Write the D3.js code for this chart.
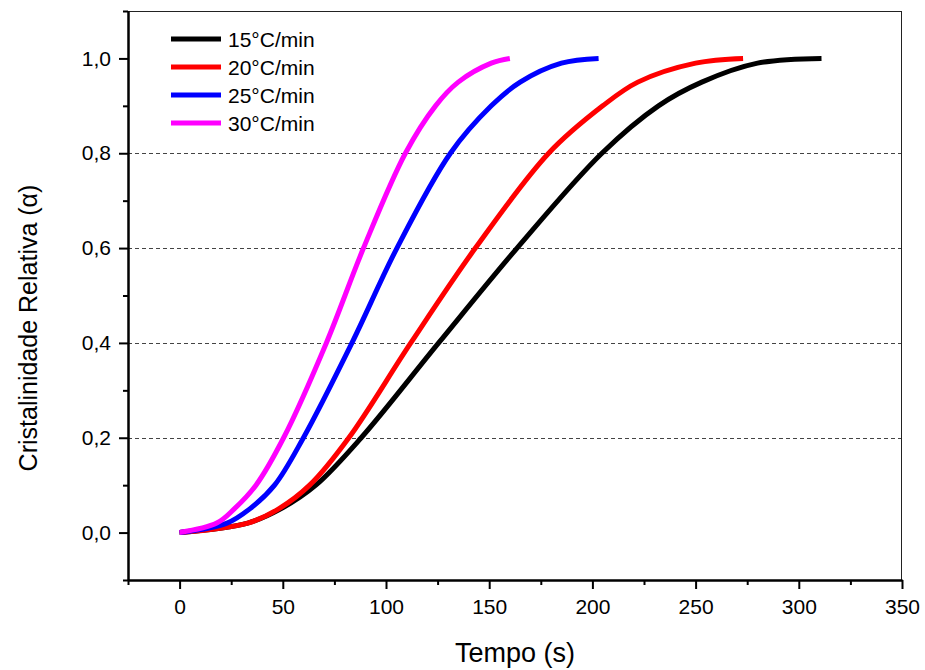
<!DOCTYPE html>
<html>
<head>
    <meta charset="utf-8" />
    <title>Cristalinidade Relativa</title>
    <script type="text/javascript" src="https://d3js.org/d3.v7.min.js"></script>
    <style>
        body { margin: 0; background: #fff; }
        svg { font-family: "Liberation Sans", Arial, sans-serif; }
        .curve { fill: none; stroke-width: 5px; stroke-linejoin: round; }
        .grid line { stroke: #444; stroke-width: 1px; stroke-dasharray: 4,3; shape-rendering: crispEdges; }
        .axis text { font-size: 21px; fill: #000; }
        .axis path, .axis line { stroke: #000; }
    </style>
</head>
<body>
<script type="text/javascript">
    // values: time (s) at which each series reaches a given alpha
    var alphaLevels = [0, 0.02, 0.05, 0.1, 0.2, 0.4, 0.6, 0.8, 0.9, 0.95, 0.99, 1.0];
    var tempo15 = [0, 33, 49, 66, 88, 125.5, 163.5, 204.6, 232, 253, 280, 311];
    var tempo20 = [0, 33, 48, 63, 82, 112, 143.3, 178.8, 205, 222, 250, 273];
    var tempo25 = [0, 23, 34, 46, 60, 83.5, 105.3, 131.2, 151, 165, 185, 203];
    var tempo30 = [0, 18, 26.5, 37, 50.4, 71.1, 89.1, 109.4, 124, 135, 151, 160];

    var seriesNames = ["15°C/min", "20°C/min", "25°C/min", "30°C/min"];
    var seriesColors = ["#000000", "#ff0000", "#0000ff", "#ff00ff"];
    var seriesTimes = [tempo15, tempo20, tempo25, tempo30];

    var xMajor = [0, 50, 100, 150, 200, 250, 300, 350];
    var xMinor = [-25, 25, 75, 125, 175, 225, 275, 325];
    var yMajor = [0, 0.2, 0.4, 0.6, 0.8, 1.0];
    var yMinor = [-0.1, 0.1, 0.3, 0.5, 0.7, 0.9, 1.1];
    var gridValues = [0.2, 0.4, 0.6, 0.8];

    var W = 925, H = 670;
    var margin = {top: 11, right: 23, bottom: 90, left: 128};
    var width = W - margin.left - margin.right,
        height = H - margin.top - margin.bottom;

    var x = d3.scaleLinear().domain([-25, 350]).range([0, width]);
    var y = d3.scaleLinear().domain([-0.1, 1.1]).range([height, 0]);

    var svg = d3.select("body").append("svg")
        .attr("width", W)
        .attr("height", H);

    var g = svg.append("g")
        .attr("transform", "translate(" + margin.left + "," + margin.top + ")");

    // dashed grid
    g.append("g").attr("class", "grid")
        .selectAll("line").data(gridValues).enter().append("line")
        .attr("x1", 0).attr("x2", width)
        .attr("y1", function(d) { return Math.round(y(d)) + 0.5; })
        .attr("y2", function(d) { return Math.round(y(d)) + 0.5; });

    // top and right frame
    g.append("line").attr("x1", 0).attr("x2", width).attr("y1", 0.5).attr("y2", 0.5)
        .attr("stroke", "#222").attr("stroke-width", 1);
    g.append("line").attr("x1", width - 0.5).attr("x2", width - 0.5).attr("y1", 0).attr("y2", height)
        .attr("stroke", "#222").attr("stroke-width", 1);

    // curves
    var line = d3.line()
        .x(function(d) { return x(d.t); })
        .y(function(d) { return y(d.a); })
        .curve(d3.curveCatmullRom.alpha(0.5));

    seriesTimes.forEach(function(times, i) {
        var pts = times.map(function(t, j) { return {t: t, a: alphaLevels[j]}; });
        g.append("path")
            .datum(pts)
            .attr("class", "curve")
            .attr("stroke", seriesColors[i])
            .attr("d", line);
    });

    // X axis
    g.append("g").attr("class", "axis")
        .attr("transform", "translate(0," + height + ")")
        .call(d3.axisBottom(x).tickValues(xMajor).tickSize(9).tickSizeOuter(0).tickPadding(10)
            .tickFormat(d3.format("d")));
    g.append("g").attr("class", "axis")
        .attr("transform", "translate(0," + height + ")")
        .call(d3.axisBottom(x).tickValues(xMinor).tickSize(5).tickSizeOuter(0).tickFormat(""));

    // Y axis
    g.append("g").attr("class", "axis")
        .call(d3.axisLeft(y).tickValues(yMajor).tickSize(9).tickSizeOuter(0).tickPadding(8)
            .tickFormat(function(d) { return d3.format(".1f")(d).replace(".", ","); }));
    g.append("g").attr("class", "axis")
        .call(d3.axisLeft(y).tickValues(yMinor).tickSize(5).tickSizeOuter(0).tickFormat(""));

    g.selectAll(".axis path").attr("stroke-width", 2);
    g.selectAll(".axis line").attr("stroke-width", 2);

    // axis titles
    svg.append("text")
        .attr("x", margin.left + width / 2)
        .attr("y", 662)
        .attr("text-anchor", "middle")
        .attr("font-size", "27px")
        .text("Tempo (s)");

    svg.append("text")
        .attr("transform", "translate(37,328) rotate(-90)")
        .attr("text-anchor", "middle")
        .attr("font-size", "25px")
        .text("Cristalinidade Relativa (α)");

    // legend
    var legend = svg.append("g").attr("transform", "translate(171,39)");
    seriesNames.forEach(function(name, i) {
        var row = legend.append("g").attr("transform", "translate(0," + (i * 28) + ")");
        row.append("line").attr("x1", 0).attr("x2", 50).attr("y1", 0).attr("y2", 0)
            .attr("stroke", seriesColors[i]).attr("stroke-width", 5);
        row.append("text").attr("x", 57).attr("y", 7.5)
            .attr("font-size", "21px")
            .text(name);
    });
</script>
</body>
</html>
